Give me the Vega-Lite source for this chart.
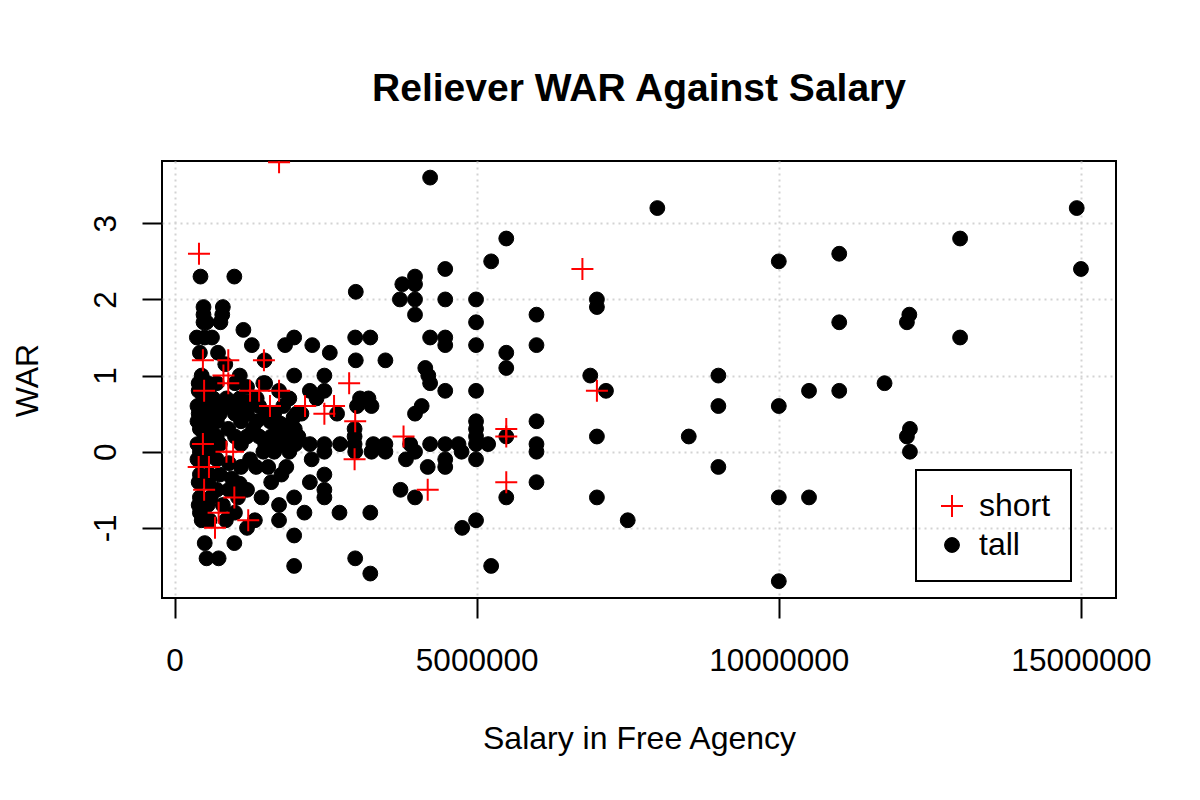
{
  "$schema": "https://vega.github.io/schema/vega-lite/v6.json",
  "width": 954,
  "height": 437,
  "autosize": "none",
  "padding": {"left": 162, "top": 161, "right": 84, "bottom": 202},
  "background": "white",
  "title": {
    "text": "Reliever WAR Against Salary",
    "font": "Liberation Sans",
    "fontSize": 39,
    "fontWeight": "bold",
    "color": "black",
    "anchor": "middle",
    "baseline": "alphabetic",
    "offset": 21
  },
  "config": {
    "view": {"stroke": "black", "strokeWidth": 2},
    "axis": {
      "labelFont": "Liberation Sans",
      "titleFont": "Liberation Sans",
      "labelFontSize": 31.5,
      "titleFontSize": 32,
      "labelColor": "black",
      "titleColor": "black",
      "titleFontWeight": "normal",
      "domain": false,
      "tickColor": "black",
      "tickWidth": 2,
      "tickSize": 20,
      "grid": true,
      "gridColor": "#d3d3d3",
      "gridWidth": 2,
      "gridDash": [2, 4],
      "labelFlush": false,
      "labelOverlap": false,
      "labelExpr": "'' + datum.value"
    },
    "legend": {
      "strokeColor": "black",
      "strokeWidth": 2,
      "padding": 20,
      "rowPadding": 7,
      "labelOffset": 11,
      "labelFont": "Liberation Sans",
      "labelFontSize": 32,
      "labelColor": "black",
      "symbolStrokeWidth": 2
    }
  },
  "data": {
    "values": [
      {"salary": 4230000, "war": 3.6, "group": "tall"},
      {"salary": 7990000, "war": 3.2, "group": "tall"},
      {"salary": 14930000, "war": 3.2, "group": "tall"},
      {"salary": 5490000, "war": 2.8, "group": "tall"},
      {"salary": 13000000, "war": 2.8, "group": "tall"},
      {"salary": 11000000, "war": 2.6, "group": "tall"},
      {"salary": 5240000, "war": 2.5, "group": "tall"},
      {"salary": 10000000, "war": 2.5, "group": "tall"},
      {"salary": 15000000, "war": 2.4, "group": "tall"},
      {"salary": 4480000, "war": 2.4, "group": "tall"},
      {"salary": 430000, "war": 2.3, "group": "tall"},
      {"salary": 990000, "war": 2.3, "group": "tall"},
      {"salary": 3980000, "war": 2.3, "group": "tall"},
      {"salary": 3770000, "war": 2.2, "group": "tall"},
      {"salary": 3980000, "war": 2.2, "group": "tall"},
      {"salary": 3000000, "war": 2.1, "group": "tall"},
      {"salary": 3730000, "war": 2.0, "group": "tall"},
      {"salary": 3980000, "war": 2.0, "group": "tall"},
      {"salary": 4480000, "war": 2.0, "group": "tall"},
      {"salary": 4990000, "war": 2.0, "group": "tall"},
      {"salary": 6990000, "war": 2.0, "group": "tall"},
      {"salary": 6990000, "war": 1.9, "group": "tall"},
      {"salary": 480000, "war": 1.9, "group": "tall"},
      {"salary": 800000, "war": 1.9, "group": "tall"},
      {"salary": 480000, "war": 1.8, "group": "tall"},
      {"salary": 790000, "war": 1.8, "group": "tall"},
      {"salary": 3980000, "war": 1.8, "group": "tall"},
      {"salary": 5990000, "war": 1.8, "group": "tall"},
      {"salary": 12160000, "war": 1.8, "group": "tall"},
      {"salary": 480000, "war": 1.7, "group": "tall"},
      {"salary": 530000, "war": 1.7, "group": "tall"},
      {"salary": 760000, "war": 1.7, "group": "tall"},
      {"salary": 4990000, "war": 1.7, "group": "tall"},
      {"salary": 11000000, "war": 1.7, "group": "tall"},
      {"salary": 12120000, "war": 1.7, "group": "tall"},
      {"salary": 1140000, "war": 1.6, "group": "tall"},
      {"salary": 370000, "war": 1.5, "group": "tall"},
      {"salary": 500000, "war": 1.5, "group": "tall"},
      {"salary": 620000, "war": 1.5, "group": "tall"},
      {"salary": 1980000, "war": 1.5, "group": "tall"},
      {"salary": 2990000, "war": 1.5, "group": "tall"},
      {"salary": 3240000, "war": 1.5, "group": "tall"},
      {"salary": 4230000, "war": 1.5, "group": "tall"},
      {"salary": 4480000, "war": 1.5, "group": "tall"},
      {"salary": 13000000, "war": 1.5, "group": "tall"},
      {"salary": 1280000, "war": 1.4, "group": "tall"},
      {"salary": 1830000, "war": 1.4, "group": "tall"},
      {"salary": 2280000, "war": 1.4, "group": "tall"},
      {"salary": 4480000, "war": 1.4, "group": "tall"},
      {"salary": 4990000, "war": 1.4, "group": "tall"},
      {"salary": 5990000, "war": 1.4, "group": "tall"},
      {"salary": 420000, "war": 1.3, "group": "tall"},
      {"salary": 720000, "war": 1.3, "group": "tall"},
      {"salary": 2570000, "war": 1.3, "group": "tall"},
      {"salary": 5490000, "war": 1.3, "group": "tall"},
      {"salary": 3000000, "war": 1.2, "group": "tall"},
      {"salary": 3490000, "war": 1.2, "group": "tall"},
      {"salary": 1490000, "war": 1.2, "group": "tall"},
      {"salary": 840000, "war": 1.15, "group": "tall"},
      {"salary": 4150000, "war": 1.1, "group": "tall"},
      {"salary": 5490000, "war": 1.1, "group": "tall"},
      {"salary": 4200000, "war": 1.0, "group": "tall"},
      {"salary": 4230000, "war": 0.9, "group": "tall"},
      {"salary": 450000, "war": 1.0, "group": "tall"},
      {"salary": 1080000, "war": 1.0, "group": "tall"},
      {"salary": 1980000, "war": 1.0, "group": "tall"},
      {"salary": 2480000, "war": 1.0, "group": "tall"},
      {"salary": 6880000, "war": 1.0, "group": "tall"},
      {"salary": 9000000, "war": 1.0, "group": "tall"},
      {"salary": 1500000, "war": 0.9, "group": "tall"},
      {"salary": 1470000, "war": 0.9, "group": "tall"},
      {"salary": 11750000, "war": 0.9, "group": "tall"},
      {"salary": 4480000, "war": 0.8, "group": "tall"},
      {"salary": 4990000, "war": 0.8, "group": "tall"},
      {"salary": 7140000, "war": 0.8, "group": "tall"},
      {"salary": 10500000, "war": 0.8, "group": "tall"},
      {"salary": 11000000, "war": 0.8, "group": "tall"},
      {"salary": 1730000, "war": 0.8, "group": "tall"},
      {"salary": 2240000, "war": 0.8, "group": "tall"},
      {"salary": 2480000, "war": 0.8, "group": "tall"},
      {"salary": 480000, "war": 0.7, "group": "tall"},
      {"salary": 640000, "war": 0.7, "group": "tall"},
      {"salary": 860000, "war": 0.7, "group": "tall"},
      {"salary": 1080000, "war": 0.7, "group": "tall"},
      {"salary": 1360000, "war": 0.7, "group": "tall"},
      {"salary": 2350000, "war": 0.7, "group": "tall"},
      {"salary": 3070000, "war": 0.7, "group": "tall"},
      {"salary": 3210000, "war": 0.7, "group": "tall"},
      {"salary": 1220000, "war": 0.65, "group": "tall"},
      {"salary": 3020000, "war": 0.6, "group": "tall"},
      {"salary": 3260000, "war": 0.6, "group": "tall"},
      {"salary": 4090000, "war": 0.6, "group": "tall"},
      {"salary": 9000000, "war": 0.6, "group": "tall"},
      {"salary": 10000000, "war": 0.6, "group": "tall"},
      {"salary": 420000, "war": 0.6, "group": "tall"},
      {"salary": 2690000, "war": 0.5, "group": "tall"},
      {"salary": 2020000, "war": 0.5, "group": "tall"},
      {"salary": 3980000, "war": 0.5, "group": "tall"},
      {"salary": 2100000, "war": 0.5, "group": "tall"},
      {"salary": 1360000, "war": 0.4, "group": "tall"},
      {"salary": 1580000, "war": 0.4, "group": "tall"},
      {"salary": 4990000, "war": 0.4, "group": "tall"},
      {"salary": 5990000, "war": 0.4, "group": "tall"},
      {"salary": 1970000, "war": 0.45, "group": "tall"},
      {"salary": 420000, "war": 0.3, "group": "tall"},
      {"salary": 890000, "war": 0.3, "group": "tall"},
      {"salary": 2980000, "war": 0.3, "group": "tall"},
      {"salary": 4990000, "war": 0.3, "group": "tall"},
      {"salary": 12170000, "war": 0.3, "group": "tall"},
      {"salary": 1750000, "war": 0.37, "group": "tall"},
      {"salary": 1990000, "war": 0.3, "group": "tall"},
      {"salary": 1200000, "war": 0.2, "group": "tall"},
      {"salary": 2980000, "war": 0.2, "group": "tall"},
      {"salary": 5490000, "war": 0.2, "group": "tall"},
      {"salary": 6990000, "war": 0.2, "group": "tall"},
      {"salary": 8510000, "war": 0.2, "group": "tall"},
      {"salary": 12120000, "war": 0.2, "group": "tall"},
      {"salary": 4990000, "war": 0.2, "group": "tall"},
      {"salary": 1750000, "war": 0.2, "group": "tall"},
      {"salary": 1500000, "war": 0.1, "group": "tall"},
      {"salary": 1750000, "war": 0.1, "group": "tall"},
      {"salary": 2000000, "war": 0.1, "group": "tall"},
      {"salary": 2240000, "war": 0.1, "group": "tall"},
      {"salary": 2480000, "war": 0.1, "group": "tall"},
      {"salary": 2740000, "war": 0.1, "group": "tall"},
      {"salary": 2980000, "war": 0.1, "group": "tall"},
      {"salary": 3290000, "war": 0.1, "group": "tall"},
      {"salary": 3490000, "war": 0.1, "group": "tall"},
      {"salary": 3900000, "war": 0.1, "group": "tall"},
      {"salary": 4230000, "war": 0.1, "group": "tall"},
      {"salary": 4480000, "war": 0.1, "group": "tall"},
      {"salary": 4700000, "war": 0.1, "group": "tall"},
      {"salary": 4990000, "war": 0.1, "group": "tall"},
      {"salary": 5190000, "war": 0.1, "group": "tall"},
      {"salary": 5990000, "war": 0.1, "group": "tall"},
      {"salary": 420000, "war": 0.0, "group": "tall"},
      {"salary": 1470000, "war": 0.0, "group": "tall"},
      {"salary": 2480000, "war": 0.0, "group": "tall"},
      {"salary": 2990000, "war": 0.0, "group": "tall"},
      {"salary": 3260000, "war": 0.0, "group": "tall"},
      {"salary": 3490000, "war": 0.0, "group": "tall"},
      {"salary": 3980000, "war": 0.0, "group": "tall"},
      {"salary": 4750000, "war": 0.0, "group": "tall"},
      {"salary": 5990000, "war": 0.0, "group": "tall"},
      {"salary": 12170000, "war": 0.0, "group": "tall"},
      {"salary": 2270000, "war": -0.1, "group": "tall"},
      {"salary": 1250000, "war": -0.1, "group": "tall"},
      {"salary": 3830000, "war": -0.1, "group": "tall"},
      {"salary": 4480000, "war": -0.1, "group": "tall"},
      {"salary": 4990000, "war": -0.1, "group": "tall"},
      {"salary": 4190000, "war": -0.2, "group": "tall"},
      {"salary": 4480000, "war": -0.2, "group": "tall"},
      {"salary": 9000000, "war": -0.2, "group": "tall"},
      {"salary": 1770000, "war": -0.3, "group": "tall"},
      {"salary": 2480000, "war": -0.3, "group": "tall"},
      {"salary": 2240000, "war": -0.4, "group": "tall"},
      {"salary": 5990000, "war": -0.4, "group": "tall"},
      {"salary": 1080000, "war": -0.42, "group": "tall"},
      {"salary": 1200000, "war": -0.5, "group": "tall"},
      {"salary": 2480000, "war": -0.5, "group": "tall"},
      {"salary": 3740000, "war": -0.5, "group": "tall"},
      {"salary": 420000, "war": -0.6, "group": "tall"},
      {"salary": 1440000, "war": -0.6, "group": "tall"},
      {"salary": 1980000, "war": -0.6, "group": "tall"},
      {"salary": 2480000, "war": -0.6, "group": "tall"},
      {"salary": 3980000, "war": -0.6, "group": "tall"},
      {"salary": 5490000, "war": -0.6, "group": "tall"},
      {"salary": 6990000, "war": -0.6, "group": "tall"},
      {"salary": 10000000, "war": -0.6, "group": "tall"},
      {"salary": 10500000, "war": -0.6, "group": "tall"},
      {"salary": 1730000, "war": -0.7, "group": "tall"},
      {"salary": 2150000, "war": -0.8, "group": "tall"},
      {"salary": 2730000, "war": -0.8, "group": "tall"},
      {"salary": 3240000, "war": -0.8, "group": "tall"},
      {"salary": 1730000, "war": -0.9, "group": "tall"},
      {"salary": 1330000, "war": -0.9, "group": "tall"},
      {"salary": 4990000, "war": -0.9, "group": "tall"},
      {"salary": 7500000, "war": -0.9, "group": "tall"},
      {"salary": 1200000, "war": -1.0, "group": "tall"},
      {"salary": 4760000, "war": -1.0, "group": "tall"},
      {"salary": 1980000, "war": -1.1, "group": "tall"},
      {"salary": 500000, "war": -1.2, "group": "tall"},
      {"salary": 990000, "war": -1.2, "group": "tall"},
      {"salary": 530000, "war": -1.4, "group": "tall"},
      {"salary": 730000, "war": -1.4, "group": "tall"},
      {"salary": 2990000, "war": -1.4, "group": "tall"},
      {"salary": 1980000, "war": -1.5, "group": "tall"},
      {"salary": 5240000, "war": -1.5, "group": "tall"},
      {"salary": 3240000, "war": -1.6, "group": "tall"},
      {"salary": 10000000, "war": -1.7, "group": "tall"},
      {"salary": 400000, "war": 0.9, "group": "tall"},
      {"salary": 550000, "war": 0.9, "group": "tall"},
      {"salary": 400000, "war": 0.8, "group": "tall"},
      {"salary": 560000, "war": 0.8, "group": "tall"},
      {"salary": 380000, "war": 0.6, "group": "tall"},
      {"salary": 520000, "war": 0.6, "group": "tall"},
      {"salary": 600000, "war": 0.5, "group": "tall"},
      {"salary": 400000, "war": 0.5, "group": "tall"},
      {"salary": 500000, "war": 0.4, "group": "tall"},
      {"salary": 380000, "war": 0.4, "group": "tall"},
      {"salary": 600000, "war": 0.3, "group": "tall"},
      {"salary": 500000, "war": 0.2, "group": "tall"},
      {"salary": 380000, "war": 0.1, "group": "tall"},
      {"salary": 550000, "war": 0.1, "group": "tall"},
      {"salary": 600000, "war": 0.0, "group": "tall"},
      {"salary": 380000, "war": -0.1, "group": "tall"},
      {"salary": 500000, "war": -0.1, "group": "tall"},
      {"salary": 420000, "war": -0.3, "group": "tall"},
      {"salary": 580000, "war": -0.3, "group": "tall"},
      {"salary": 400000, "war": -0.4, "group": "tall"},
      {"salary": 560000, "war": -0.4, "group": "tall"},
      {"salary": 600000, "war": -0.6, "group": "tall"},
      {"salary": 400000, "war": -0.7, "group": "tall"},
      {"salary": 550000, "war": -0.7, "group": "tall"},
      {"salary": 420000, "war": -0.8, "group": "tall"},
      {"salary": 580000, "war": -0.9, "group": "tall"},
      {"salary": 450000, "war": -0.9, "group": "tall"},
      {"salary": 700000, "war": 0.9, "group": "tall"},
      {"salary": 1000000, "war": 0.9, "group": "tall"},
      {"salary": 1200000, "war": 0.85, "group": "tall"},
      {"salary": 700000, "war": 0.6, "group": "tall"},
      {"salary": 900000, "war": 0.6, "group": "tall"},
      {"salary": 1100000, "war": 0.6, "group": "tall"},
      {"salary": 750000, "war": 0.5, "group": "tall"},
      {"salary": 1000000, "war": 0.5, "group": "tall"},
      {"salary": 1200000, "war": 0.5, "group": "tall"},
      {"salary": 700000, "war": 0.4, "group": "tall"},
      {"salary": 1100000, "war": 0.4, "group": "tall"},
      {"salary": 700000, "war": 0.2, "group": "tall"},
      {"salary": 1000000, "war": 0.2, "group": "tall"},
      {"salary": 750000, "war": 0.1, "group": "tall"},
      {"salary": 1100000, "war": 0.1, "group": "tall"},
      {"salary": 700000, "war": -0.1, "group": "tall"},
      {"salary": 900000, "war": -0.15, "group": "tall"},
      {"salary": 1100000, "war": -0.2, "group": "tall"},
      {"salary": 750000, "war": -0.3, "group": "tall"},
      {"salary": 950000, "war": -0.35, "group": "tall"},
      {"salary": 700000, "war": -0.5, "group": "tall"},
      {"salary": 900000, "war": -0.5, "group": "tall"},
      {"salary": 1050000, "war": -0.6, "group": "tall"},
      {"salary": 800000, "war": -0.7, "group": "tall"},
      {"salary": 1000000, "war": -0.8, "group": "tall"},
      {"salary": 850000, "war": -0.9, "group": "tall"},
      {"salary": 1400000, "war": 0.6, "group": "tall"},
      {"salary": 1500000, "war": 0.5, "group": "tall"},
      {"salary": 1650000, "war": 0.5, "group": "tall"},
      {"salary": 1800000, "war": 0.6, "group": "tall"},
      {"salary": 1900000, "war": 0.7, "group": "tall"},
      {"salary": 1700000, "war": 0.3, "group": "tall"},
      {"salary": 1850000, "war": 0.2, "group": "tall"},
      {"salary": 1600000, "war": 0.2, "group": "tall"},
      {"salary": 1400000, "war": 0.2, "group": "tall"},
      {"salary": 1300000, "war": 0.3, "group": "tall"},
      {"salary": 1900000, "war": 0.35, "group": "tall"},
      {"salary": 2050000, "war": 0.2, "group": "tall"},
      {"salary": 1650000, "war": 0.0, "group": "tall"},
      {"salary": 1900000, "war": 0.0, "group": "tall"},
      {"salary": 1350000, "war": -0.2, "group": "tall"},
      {"salary": 1550000, "war": -0.2, "group": "tall"},
      {"salary": 1600000, "war": -0.4, "group": "tall"},
      {"salary": 1850000, "war": -0.2, "group": "tall"},
      {"salary": 1730000, "war": 3.8, "group": "short"},
      {"salary": 405000, "war": 2.6, "group": "short"},
      {"salary": 470000, "war": 1.2, "group": "short"},
      {"salary": 890000, "war": 1.2, "group": "short"},
      {"salary": 1480000, "war": 1.2, "group": "short"},
      {"salary": 810000, "war": 1.0, "group": "short"},
      {"salary": 890000, "war": 0.9, "group": "short"},
      {"salary": 490000, "war": 0.8, "group": "short"},
      {"salary": 1250000, "war": 0.8, "group": "short"},
      {"salary": 1400000, "war": 0.8, "group": "short"},
      {"salary": 1730000, "war": 0.8, "group": "short"},
      {"salary": 1580000, "war": 0.6, "group": "short"},
      {"salary": 2890000, "war": 0.9, "group": "short"},
      {"salary": 2160000, "war": 0.6, "group": "short"},
      {"salary": 2640000, "war": 0.6, "group": "short"},
      {"salary": 2480000, "war": 0.5, "group": "short"},
      {"salary": 2990000, "war": 0.4, "group": "short"},
      {"salary": 470000, "war": 0.1, "group": "short"},
      {"salary": 860000, "war": 0.0, "group": "short"},
      {"salary": 970000, "war": 0.0, "group": "short"},
      {"salary": 2980000, "war": -0.1, "group": "short"},
      {"salary": 400000, "war": -0.2, "group": "short"},
      {"salary": 570000, "war": -0.2, "group": "short"},
      {"salary": 490000, "war": -0.5, "group": "short"},
      {"salary": 990000, "war": -0.6, "group": "short"},
      {"salary": 730000, "war": -0.8, "group": "short"},
      {"salary": 1220000, "war": -0.9, "group": "short"},
      {"salary": 670000, "war": -1.0, "group": "short"},
      {"salary": 6750000, "war": 2.4, "group": "short"},
      {"salary": 6990000, "war": 0.8, "group": "short"},
      {"salary": 5490000, "war": 0.3, "group": "short"},
      {"salary": 5490000, "war": 0.2, "group": "short"},
      {"salary": 3790000, "war": 0.2, "group": "short"},
      {"salary": 4190000, "war": -0.5, "group": "short"},
      {"salary": 5490000, "war": -0.4, "group": "short"}
    ]
  },
  "mark": {"type": "point", "opacity": 1, "clip": true},
  "encoding": {
    "x": {
      "field": "salary",
      "type": "quantitative",
      "title": "Salary in Free Agency",
      "scale": {"domain": [-207000, 15580000], "nice": false, "zero": false},
      "axis": {
        "values": [0, 5000000, 10000000, 15000000],
        "labelPadding": 52,
        "labelBaseline": "alphabetic",
        "titleBaseline": "alphabetic",
        "titleY": 150
      }
    },
    "y": {
      "field": "war",
      "type": "quantitative",
      "title": "WAR",
      "scale": {"domain": [-1.921, 3.818], "nice": false, "zero": false},
      "axis": {
        "values": [-1, 0, 1, 2, 3],
        "labelAngle": 270,
        "labelAlign": "center",
        "labelBaseline": "alphabetic",
        "labelPadding": 27,
        "titleAngle": 270,
        "titleAlign": "center",
        "titleBaseline": "alphabetic",
        "titleX": -125,
        "titleY": 219
      }
    },
    "shape": {
      "field": "group",
      "type": "nominal",
      "scale": {"domain": ["short", "tall"], "range": ["M-1,0L1,0M0,-1L0,1", "circle"]},
      "legend": {"title": null, "orient": "none", "legendX": 754, "legendY": 309, "direction": "vertical"}
    },
    "fill": {
      "field": "group",
      "type": "nominal",
      "scale": {"domain": ["short", "tall"], "range": ["transparent", "black"]},
      "legend": {"title": null, "orient": "none", "legendX": 754, "legendY": 309, "direction": "vertical"}
    },
    "stroke": {
      "field": "group",
      "type": "nominal",
      "scale": {"domain": ["short", "tall"], "range": ["#ff0000", "black"]},
      "legend": {"title": null, "orient": "none", "legendX": 754, "legendY": 309, "direction": "vertical"}
    },
    "size": {
      "field": "group",
      "type": "nominal",
      "scale": {"domain": ["short", "tall"], "range": [484, 220]},
      "legend": {"title": null, "orient": "none", "legendX": 754, "legendY": 309, "direction": "vertical"}
    },
    "strokeWidth": {
      "field": "group",
      "type": "nominal",
      "scale": {"domain": ["short", "tall"], "range": [2, 1]},
      "legend": {"title": null, "orient": "none", "legendX": 754, "legendY": 309, "direction": "vertical"}
    }
  }
}
